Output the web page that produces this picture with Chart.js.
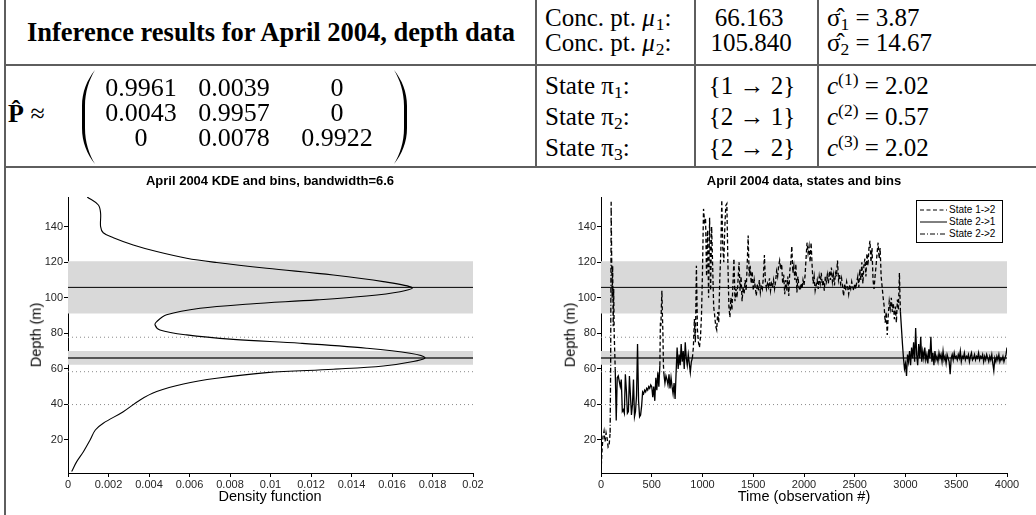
<!DOCTYPE html>
<html><head><meta charset="utf-8">
<script src="https://cdn.jsdelivr.net/npm/chart.js@4.4.0/dist/chart.umd.min.js"></script>
<style>
html,body{margin:0;padding:0;background:#fff;}
#page{position:relative;width:1036px;height:515px;overflow:hidden;background:#fff;}
.ln{position:absolute;background:#5e5e5e;z-index:3;}
.t{position:absolute;font-family:"Liberation Serif","Times New Roman",serif;font-size:25px;color:#000;white-space:nowrap;line-height:1;z-index:4;}
.s{position:absolute;font-family:"Liberation Sans",Arial,sans-serif;color:#000;white-space:nowrap;line-height:1;z-index:4;}
.c{transform:translate(-50%,-50%);}
.l{transform:translateY(-50%);}
.t sub{font-size:0.7em;vertical-align:-0.28em;line-height:0;}
.t sup{font-size:0.7em;vertical-align:0.5em;line-height:0;}
.t i.mu{margin-right:1px;}
canvas{position:absolute;z-index:1;}
#legend{position:absolute;left:916px;top:200px;width:85px;height:41px;border:1px solid #000;background:#fff;z-index:5;}
#legend .row{position:absolute;left:0;height:12px;width:85px;}
#legend svg{position:absolute;left:3px;top:0;}
#legend span{position:absolute;left:32px;top:1px;font-family:"Liberation Sans",Arial,sans-serif;font-size:10px;line-height:1;color:#000;}
</style></head>
<body>
<div id="page">
  <canvas id="kde" width="520" height="348" style="left:0;top:167px"></canvas>
  <canvas id="ts" width="516" height="348" style="left:520px;top:167px"></canvas>

  <div class="ln" style="left:4px;top:0;width:2px;height:515px"></div>
  <div class="ln" style="left:4px;top:64px;width:1032px;height:2px"></div>
  <div class="ln" style="left:4px;top:166px;width:1032px;height:2px"></div>
  <div class="ln" style="left:535px;top:0;width:2px;height:167px"></div>
  <div class="ln" style="left:694px;top:0;width:2px;height:167px"></div>
  <div class="ln" style="left:817px;top:0;width:2px;height:167px"></div>

  <div class="t c" style="left:271px;top:32px;font-weight:bold;font-size:26.5px">Inference results for April 2004, depth data</div>
  <div class="t l" style="left:8px;top:114px;font-size:26px"><b>P&#770;</b> &#8776;</div>
  <svg style="position:absolute;left:0;top:0;z-index:4" width="540" height="167">
    <path d="M95,70 C87,80 82,92 82,106 L82,128 C82,142 87,154 95,164 C89,154 85,142 85,128 L85,106 C85,92 89,80 95,70 Z" fill="#000"/>
    <path d="M394,70 C402,80 407,92 407,106 L407,128 C407,142 402,154 394,164 C400,154 404,142 404,128 L404,106 C404,92 400,80 394,70 Z" fill="#000"/>
  </svg>
  <div id="matrix"></div>

  <div class="t l" style="left:545px;top:17px">Conc. pt. <i class="mu">&#956;</i><sub>1</sub>:</div>
  <div class="t l" style="left:545px;top:42px">Conc. pt. <i class="mu">&#956;</i><sub>2</sub>:</div>
  <div class="t c" style="left:749px;top:17px">66.163</div>
  <div class="t c" style="left:751px;top:42px">105.840</div>
  <div class="t l" style="left:827px;top:17px">&#963;&#770;<sub>1</sub> = 3.87</div>
  <div class="t l" style="left:827px;top:42px">&#963;&#770;<sub>2</sub> = 14.67</div>

  <div class="t l" style="left:545px;top:85px">State &#960;<sub>1</sub>:</div>
  <div class="t l" style="left:545px;top:116px">State &#960;<sub>2</sub>:</div>
  <div class="t l" style="left:545px;top:147px">State &#960;<sub>3</sub>:</div>
  <div class="t c" style="left:752px;top:85px">{1 &#8594; 2}</div>
  <div class="t c" style="left:752px;top:116px">{2 &#8594; 1}</div>
  <div class="t c" style="left:752px;top:147px">{2 &#8594; 2}</div>
  <div class="t l" style="left:827px;top:85px"><i>c</i><sup>(1)</sup> = 2.02</div>
  <div class="t l" style="left:827px;top:116px"><i>c</i><sup>(2)</sup> = 0.57</div>
  <div class="t l" style="left:827px;top:147px"><i>c</i><sup>(3)</sup> = 2.02</div>

  <div class="s c" style="left:270px;top:180px;font-size:13px;font-weight:bold">April 2004 KDE and bins, bandwidth=6.6</div>
  <div class="s c" style="left:804px;top:180px;font-size:13px;font-weight:bold">April 2004 data, states and bins</div>
  <div class="s c" style="left:36px;top:335px;font-size:14.5px;transform:translate(-50%,-50%) rotate(-90deg)">Depth (m)</div>
  <div class="s c" style="left:570px;top:335px;font-size:14.5px;transform:translate(-50%,-50%) rotate(-90deg)">Depth (m)</div>
  <div class="s c" style="left:270px;top:496px;font-size:14.5px">Density function</div>
  <div class="s c" style="left:804px;top:496px;font-size:14.5px">Time (observation #)</div>

  <div id="legend">
    <div class="row" style="top:3px"><svg width="28" height="12"><line x1="0" y1="6" x2="27" y2="6" stroke="#000" stroke-width="1" stroke-dasharray="4,2.5"/></svg><span>State 1-&gt;2</span></div>
    <div class="row" style="top:15px"><svg width="28" height="12"><line x1="0" y1="6" x2="27" y2="6" stroke="#000" stroke-width="1"/></svg><span>State 2-&gt;1</span></div>
    <div class="row" style="top:27px"><svg width="28" height="12"><line x1="0" y1="6" x2="27" y2="6" stroke="#000" stroke-width="1" stroke-dasharray="5,2,1,2"/></svg><span>State 2-&gt;2</span></div>
  </div>
</div>

<script>
// ---------- data ----------
const depthTicks = [20, 40, 60, 80, 100, 120, 140];
const depthRange = [1.4, 156.7];
const densityTicks = [0, 0.002, 0.004, 0.006, 0.008, 0.01, 0.012, 0.014, 0.016, 0.018, 0.02];
const timeTicks = [0, 500, 1000, 1500, 2000, 2500, 3000, 3500, 4000];

const transitionMatrix = [
  ["0.9961", "0.0039", "0"],
  ["0.0043", "0.9957", "0"],
  ["0", "0.0078", "0.9922"]
];

const concPoints = [66.163, 105.840];
const binLow = [62.3, 91.2];
const binHigh = [70.0, 120.5];
const dottedLevels = [77.8, 58.4, 39.9];

// KDE curve (depth vs density)
const kdeDepth = [2.2, 7.8, 13.4, 20, 25.6, 29.4, 35.9, 42.5, 47.2, 51.5, 54.7, 57.9, 59.8, 61.6, 64.1, 66.3, 68.8, 71.6, 74.4, 76.6, 79.1, 81.9, 84.7, 86.6, 90.4, 94.1, 96.5, 98.8, 101, 103.4, 105.7, 109.1, 112.8, 116.6, 119.8, 122.2, 126, 129.7, 133.8, 136.6, 140, 147.5, 152.2, 156.7];
const kdeDensity = [0.00018, 0.00043, 0.00076, 0.00109, 0.00135, 0.00174, 0.00273, 0.00356, 0.00438, 0.0057, 0.00734, 0.00981, 0.0131, 0.01557, 0.01705, 0.01763, 0.01689, 0.01475, 0.01146, 0.00816, 0.00586, 0.00454, 0.0043, 0.00438, 0.00487, 0.00652, 0.00899, 0.01228, 0.01475, 0.0164, 0.0170, 0.01557, 0.0131, 0.00981, 0.00734, 0.00586, 0.00438, 0.00322, 0.00224, 0.00174, 0.00161, 0.00161, 0.0015, 0.00095];

// Time series segments: [first observation #, observation step]
const state12_a_time = [0, 10];
const state12_a = [2, 14, 22, 25, 19, 24, 21, 16, 17, 24];
const state22_a_time = [90, 5];
const state22_a = [24, 60, 154, 122];
const state12_b_time = [105, 5];
const state12_b = [122, 100, 118, 84, 105, 80, 70, 60];
const state21_a_time = [140, 10];
const state21_a = [60, 31, 55, 56, 53, 50, 54, 36, 37, 35, 57, 48, 35, 36, 56, 45, 34, 40, 54, 33, 36, 45, 74, 42, 33, 34, 39, 47, 46, 48, 47, 49, 48, 50, 49, 51, 50, 44, 50, 42, 55, 48, 58, 50, 62];
const state12_c_time = [580, 5];
const state12_c = [62, 86, 84, 95, 104, 90, 80, 62, 57];
const state21_b_time = [620, 10];
const state21_b = [57, 52, 56, 54, 51, 57, 49, 55, 50, 46, 52, 43, 58, 72, 60, 68, 62, 74, 64, 70, 60, 75, 66, 62, 68, 63, 58, 64, 66];
const state12_d_time = [900, 10];
const state12_d = [
  66, 72, 88, 75, 118, 82, 75, 72, 78, 90,
  115, 150, 143, 145, 112, 138, 100, 145, 104, 140,
  118, 95, 90, 84, 82, 92, 86, 110, 125, 155,
  128, 120, 140, 152, 153, 120, 95, 89, 100, 93,
  108, 122, 98, 105, 100, 110, 120, 104, 112, 98,
  106, 102, 110, 104, 118, 135, 112, 118, 108, 115,
  104, 110, 106, 101, 108, 104, 110, 103, 107, 105,
  112, 124, 109, 105, 108, 106, 111, 104, 108, 106,
  110, 105, 109, 115, 112, 118, 121, 116, 119, 108,
  113, 102, 110, 104, 112, 101, 115, 120, 129, 114,
  118, 110, 119, 103, 112, 106, 104, 108, 105, 110,
  107, 112, 122, 131, 125, 129, 120, 131, 118, 108,
  112, 104, 107, 110, 105, 112, 108, 114, 107, 110,
  104, 112, 109, 113, 108, 115, 110, 117, 109, 113,
  107, 114, 112, 121, 110, 113, 108, 111, 106, 101,
  108, 104, 109, 106, 102, 107, 105, 109, 106, 104,
  108, 105, 109, 112, 106, 116, 110, 120, 108, 118,
  122, 112, 125, 118, 128, 132, 120, 128, 110, 105,
  112, 118, 125, 131, 122, 128, 112, 106, 100, 95,
  86, 92, 79, 90, 98, 94, 100, 92, 97, 88,
  95, 86, 99, 93, 114, 92];
const state21_c_time = [2950, 10];
const state21_c = [
  92, 83, 74, 66, 60, 63, 56, 68, 64, 70,
  62, 72, 66, 75, 64, 83, 68, 62, 74, 66,
  78, 64, 70, 66, 72, 65, 68, 63, 71, 66,
  78, 64, 69, 62, 70, 65, 67, 64, 69, 66,
  68, 64, 70, 65, 67, 63, 68, 66, 64, 57,
  66, 68, 65, 69, 66, 67, 65, 68, 66, 70,
  64, 67, 66, 69, 65, 67, 66, 68, 64, 67,
  69, 65, 66, 68, 65, 67, 66, 69, 65, 67,
  66, 68, 64, 67, 65, 68, 66, 64, 67, 65,
  68, 63, 59, 66, 64, 67, 65, 68, 64, 66,
  65, 67, 64, 66, 68, 72];

// ---------- table text ----------
const matrixRowsY = [88, 113, 138];
const matrixColsX = [141, 234, 337];
const mEl = document.getElementById('matrix');
transitionMatrix.forEach((row, r) => row.forEach((txt, c) => {
  const d = document.createElement('div');
  d.className = 't c';
  d.style.left = matrixColsX[c] + 'px';
  d.style.top = matrixRowsY[r] + 'px';
  d.style.fontSize = '26px';
  d.textContent = txt;
  mEl.appendChild(d);
}));

// ---------- charts ----------
const DASHED = [4, 2.5], DASHDOT = [5, 2, 1, 2];
function seg(timing, vals) { return vals.map((v, i) => ({x: timing[0] + i * timing[1], y: v})); }
function series(timing, vals, dash) {
  return {data: seg(timing, vals), borderColor: '#000', borderWidth: 1.3, borderDash: dash, tension: 0, pointRadius: 0, fill: false};
}
function hline(y, xMin, xMax, color, width, dash) {
  return {data: [{x: xMin, y: y}, {x: xMax, y: y}], borderColor: color, borderWidth: width, borderDash: dash, pointRadius: 0, fill: false, tension: 0};
}
function axisCommon() {
  return {
    type: 'linear',
    grid: {display: true, drawOnChartArea: false, drawTicks: true, tickLength: 4, color: '#000', lineWidth: 1},
    border: {display: true, color: '#000', width: 1},
    ticks: {color: '#262626', font: {family: '"Liberation Sans", Arial, sans-serif', size: 11}, padding: 1,
            autoSkip: false, maxRotation: 0, minRotation: 0, callback: v => String(v)}
  };
}
function buildChart(id, xMin, xMax, xTicks, yWidth, padRight, mainSets) {
  const ds = mainSets.slice();
  ds.push(hline(concPoints[1], xMin, xMax, '#000', 1, []));
  ds.push(hline(concPoints[0], xMin, xMax, '#555', 2, []));
  dottedLevels.forEach(v => ds.push(hline(v, xMin, xMax, '#8a8a8a', 1, [1, 3])));
  binLow.forEach((lo, i) => {
    ds.push({data: [{x: xMin, y: binHigh[i]}, {x: xMax, y: binHigh[i]}], fill: '+1', backgroundColor: '#d9d9d9', borderColor: 'rgba(0,0,0,0)', borderWidth: 0, pointRadius: 0});
    ds.push({data: [{x: xMin, y: lo}, {x: xMax, y: lo}], fill: false, borderColor: 'rgba(0,0,0,0)', borderWidth: 0, pointRadius: 0});
  });
  const xAxis = axisCommon();
  Object.assign(xAxis, {min: xMin, max: xMax,
    afterBuildTicks: s => { s.ticks = xTicks.map(v => ({value: v})); },
    afterFit: s => { s.height = 42; }});
  const yAxis = axisCommon();
  Object.assign(yAxis, {min: depthRange[0], max: depthRange[1],
    afterBuildTicks: s => { s.ticks = depthTicks.map(v => ({value: v})); },
    afterFit: s => { s.width = yWidth; }});
  return new Chart(document.getElementById(id), {
    type: 'line',
    data: {datasets: ds},
    options: {
      responsive: false, animation: false, devicePixelRatio: 1,
      layout: {padding: {left: 0, right: padRight, top: 30, bottom: 0}},
      plugins: {legend: {display: false}, tooltip: {enabled: false}, title: {display: false},
                filler: {drawTime: 'beforeDatasetsDraw'}},
      elements: {point: {radius: 0}},
      scales: {x: xAxis, y: yAxis}
    }
  });
}

const kdePoints = kdeDepth.map((d, i) => ({x: kdeDensity[i], y: d}));
buildChart('kde', 0, 0.02, densityTicks, 68, 47, [
  {data: kdePoints, borderColor: '#000', borderWidth: 1.1, tension: 0.35, pointRadius: 0, fill: false}
]);

buildChart('ts', 0, 4000, timeTicks, 81, 29, [
  series(state12_a_time, state12_a, DASHED),
  series(state22_a_time, state22_a, DASHDOT),
  series(state12_b_time, state12_b, DASHED),
  series(state21_a_time, state21_a, []),
  series(state12_c_time, state12_c, DASHED),
  series(state21_b_time, state21_b, []),
  series(state12_d_time, state12_d, DASHED),
  series(state21_c_time, state21_c, [])
]);
</script>
</body></html>
